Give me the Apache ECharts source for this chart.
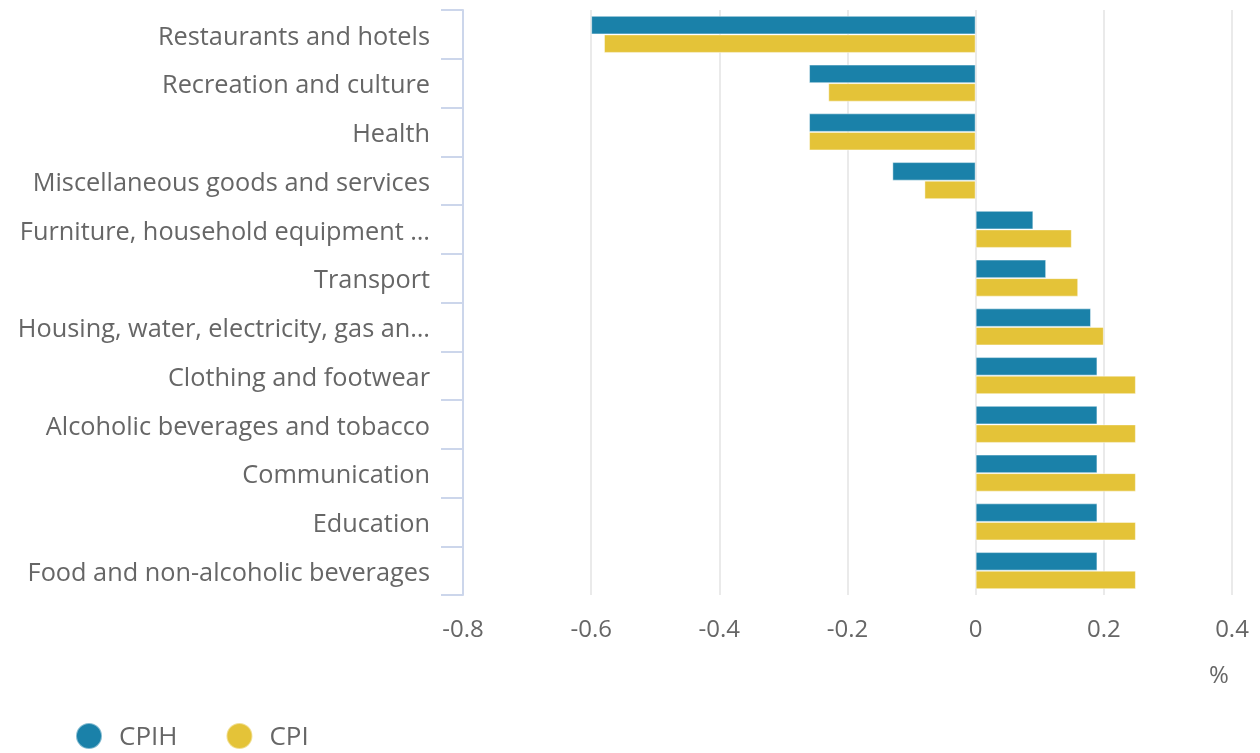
<!DOCTYPE html>
<html>
<head>
<meta charset="utf-8">
<script src="https://cdn.jsdelivr.net/npm/echarts@6/dist/echarts.min.js"></script>
<style>html,body{margin:0;padding:0;background:#fff}#c{width:1260px;height:753px}</style>
</head>
<body>
<div id="c"></div>
<script>
const categories = [
  "Restaurants and hotels",
  "Recreation and culture",
  "Health",
  "Miscellaneous goods and services",
  "Furniture, household equipment and maintenance",
  "Transport",
  "Housing, water, electricity, gas and other fuels",
  "Clothing and footwear",
  "Alcoholic beverages and tobacco",
  "Communication",
  "Education",
  "Food and non-alcoholic beverages"
];
const cpih = [-0.6, -0.26, -0.26, -0.13, 0.09, 0.11, 0.18, 0.19, 0.19, 0.19, 0.19, 0.19];
const cpi  = [-0.58, -0.23, -0.26, -0.08, 0.15, 0.16, 0.2, 0.25, 0.25, 0.25, 0.25, 0.25];
const xTicks = { min: -0.8, max: 0.4, interval: 0.2 };

const font = "'Open Sans', 'Noto Sans', sans-serif";
const chart = echarts.init(document.getElementById('c'));
chart.setOption({
  animation: false,
  textStyle: { fontFamily: font },
  grid: { left: 463, right: 28, top: 10, bottom: 158, containLabel: false },
  legend: {
    left: 70, top: 717, icon: 'circle', itemWidth: 26, itemHeight: 26, itemGap: 48,
    formatter: function (n) { return '{t|' + n + '}'; },
    textStyle: { fontSize: 26, color: '#666666', fontFamily: font,
      rich: { t: { fontSize: 26, color: '#666666', fontFamily: font, padding: [4, 0, 0, 12] } } },
    data: ['CPIH', 'CPI']
  },
  xAxis: {
    type: 'value', min: xTicks.min, max: xTicks.max, interval: xTicks.interval,
    axisLine: { show: false }, axisTick: { show: false },
    splitLine: { show: true, lineStyle: { color: '#e3e3e3', width: 1.5 } },
    axisLabel: { fontSize: 24, color: '#666666', margin: 23, fontFamily: font }
  },
  yAxis: {
    type: 'category', data: categories, inverse: true,
    axisLine: { show: true, onZero: false, lineStyle: { color: '#ccd6eb', width: 2 } },
    axisTick: { show: true, length: 22, lineStyle: { color: '#ccd6eb', width: 2 } },
    axisLabel: { fontSize: 25.3, color: '#666666', margin: 33, width: 422, overflow: 'truncate', ellipsis: '…',
      verticalAlign: 'top', lineHeight: 6, fontFamily: font },
    splitLine: { show: false }
  },
  graphic: [{
    type: 'text', left: 1209, top: 664,
    style: { text: '%', fontSize: 24, fill: '#666666', fontFamily: font }
  }],
  series: [
    { name: 'CPIH', type: 'bar', data: cpih, barGap: '0%', barCategoryGap: '24%',
      itemStyle: { color: '#1a81a9', borderColor: 'rgba(255,255,255,0.45)', borderWidth: 1 } },
    { name: 'CPI', type: 'bar', data: cpi,
      itemStyle: { color: '#e4c338', borderColor: 'rgba(255,255,255,0.45)', borderWidth: 1 } }
  ]
});
</script>
</body>
</html>
